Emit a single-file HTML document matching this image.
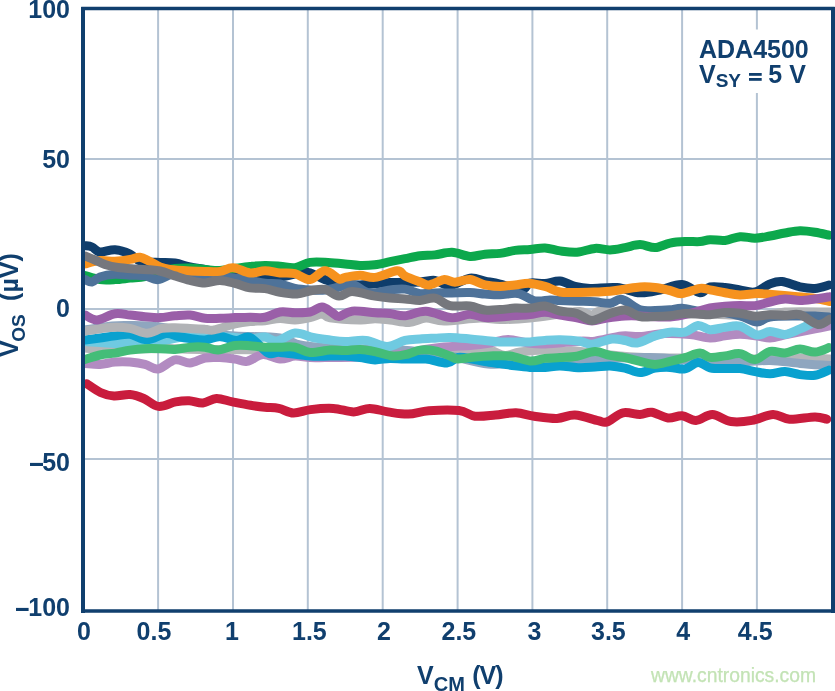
<!DOCTYPE html>
<html><head><meta charset="utf-8"><style>
html,body{margin:0;padding:0;background:#fff;overflow:hidden}
svg{display:block;will-change:transform}
</style></head><body>
<svg width="835" height="691" viewBox="0 0 835 691">
<defs><clipPath id="pc"><rect x="83" y="8" width="750" height="603"/></clipPath></defs>
<rect width="835" height="691" fill="#fff"/>
<line x1="158.1" y1="9" x2="158.1" y2="610" stroke="#b4c3d3" stroke-width="2"/>
<line x1="233.0" y1="9" x2="233.0" y2="610" stroke="#b4c3d3" stroke-width="2"/>
<line x1="307.8" y1="9" x2="307.8" y2="610" stroke="#b4c3d3" stroke-width="2"/>
<line x1="382.7" y1="9" x2="382.7" y2="610" stroke="#b4c3d3" stroke-width="2"/>
<line x1="457.6" y1="9" x2="457.6" y2="610" stroke="#b4c3d3" stroke-width="2"/>
<line x1="532.4" y1="9" x2="532.4" y2="610" stroke="#b4c3d3" stroke-width="2"/>
<line x1="607.2" y1="9" x2="607.2" y2="610" stroke="#b4c3d3" stroke-width="2"/>
<line x1="682.1" y1="9" x2="682.1" y2="610" stroke="#b4c3d3" stroke-width="2"/>
<line x1="756.9" y1="9" x2="756.9" y2="610" stroke="#b4c3d3" stroke-width="2"/>
<line x1="83" y1="159.0" x2="833" y2="159.0" stroke="#b4c3d3" stroke-width="2"/>
<line x1="83" y1="309.0" x2="833" y2="309.0" stroke="#b4c3d3" stroke-width="2"/>
<line x1="83" y1="459.0" x2="833" y2="459.0" stroke="#b4c3d3" stroke-width="2"/>
<rect x="692" y="29.5" width="125" height="63.5" fill="#fff"/>
<g clip-path="url(#pc)">
<path d="M85.0,348.0 C88.3,348.2 97.5,349.3 105.0,349.5 C112.5,349.7 120.0,349.2 130.0,349.0 C140.0,348.8 153.3,348.4 165.0,348.5 C176.7,348.6 177.5,349.2 200.0,349.5 C222.5,349.8 266.7,349.6 300.0,350.0 C333.3,350.4 370.0,351.9 400.0,352.0 C430.0,352.1 464.7,350.7 480.0,350.5 C495.3,350.3 487.8,350.2 492.0,351.0 C496.2,351.8 500.3,355.3 505.0,355.5 C509.7,355.7 513.3,352.9 520.0,352.0 C526.7,351.1 538.3,350.1 545.0,350.0 C551.7,349.9 555.0,351.5 560.0,351.6 C565.0,351.8 565.0,350.2 575.0,350.9 C585.0,351.6 605.8,354.8 620.0,356.0 C634.2,357.2 646.7,357.7 660.0,358.0 C673.3,358.3 685.0,357.8 700.0,358.0 C715.0,358.2 735.0,359.0 750.0,359.0 C765.0,359.0 776.7,358.0 790.0,358.0 C803.3,358.0 823.3,358.8 830.0,359.0" fill="none" stroke="#b4b6b9" stroke-width="9" stroke-linejoin="round" stroke-linecap="round"/>
<path d="M85.0,330.0 C89.5,329.3 104.5,326.8 112.0,326.0 C119.5,325.2 122.0,325.3 130.0,325.5 C138.0,325.7 150.0,325.8 160.0,327.0 C170.0,328.2 177.5,331.5 190.0,333.0 C202.5,334.5 220.0,335.2 235.0,336.0 C250.0,336.8 269.2,336.5 280.0,338.0 C290.8,339.5 291.7,343.3 300.0,345.0 C308.3,346.7 313.3,347.2 330.0,348.0 C346.7,348.8 380.0,348.7 400.0,350.0 C420.0,351.3 435.3,353.7 450.0,356.0 C464.7,358.3 474.7,363.0 488.0,364.0 C501.3,365.0 513.0,362.8 530.0,362.0 C547.0,361.2 570.0,359.8 590.0,359.0 C610.0,358.2 631.7,357.2 650.0,357.5 C668.3,357.8 685.0,360.2 700.0,361.0 C715.0,361.8 728.3,362.1 740.0,362.0 C751.7,361.9 760.0,360.2 770.0,360.4 C780.0,360.6 790.0,362.5 800.0,363.4 C810.0,364.3 825.0,365.2 830.0,365.6" fill="none" stroke="#8fa6bf" stroke-width="9" stroke-linejoin="round" stroke-linecap="round"/>
<path d="M85.0,363.6 C87.5,363.7 95.0,364.6 100.0,364.4 C105.0,364.1 110.0,362.5 115.0,362.1 C120.0,361.7 125.0,361.7 130.0,362.1 C135.0,362.5 140.3,363.2 145.0,364.4 C149.7,365.5 153.0,369.8 158.0,369.0 C163.0,368.2 169.7,360.9 175.0,359.9 C180.3,358.9 185.0,363.2 190.0,362.9 C195.0,362.6 200.0,358.9 205.0,358.0 C210.0,357.1 215.0,357.4 220.0,357.6 C225.0,357.8 230.5,358.5 235.0,359.1 C239.5,359.7 242.3,362.2 247.0,361.4 C251.7,360.6 257.5,354.9 263.0,354.5 C268.5,354.1 274.7,358.8 280.0,359.1 C285.3,359.4 290.0,356.4 295.0,356.1 C300.0,355.9 305.0,357.4 310.0,357.6 C315.0,357.9 316.7,357.7 325.0,357.6 C333.3,357.5 347.5,357.5 360.0,357.0 C372.5,356.5 389.2,355.8 400.0,354.5 C410.8,353.2 417.7,350.8 425.0,349.5 C432.3,348.2 436.5,347.7 444.0,347.0 C451.5,346.3 462.3,346.2 470.0,345.5 C477.7,344.8 483.7,344.0 490.0,343.0 C496.3,342.0 501.7,339.5 508.0,339.5 C514.3,339.5 521.8,342.2 528.0,343.0 C534.2,343.8 536.3,344.3 545.0,344.0 C553.7,343.7 571.7,341.7 580.0,341.2 C588.3,340.7 588.0,342.1 595.0,341.2 C602.0,340.3 614.5,336.7 622.0,335.9 C629.5,335.1 632.8,336.9 640.0,336.5 C647.2,336.1 656.7,333.8 665.0,333.5 C673.3,333.2 682.5,333.8 690.0,334.5 C697.5,335.2 704.2,337.8 710.0,338.0 C715.8,338.2 720.0,336.3 725.0,335.7 C730.0,335.1 735.0,334.2 740.0,334.2 C745.0,334.2 750.0,335.1 755.0,335.7 C760.0,336.3 765.0,338.0 770.0,337.9 C775.0,337.8 780.0,335.9 785.0,334.9 C790.0,333.9 795.0,332.9 800.0,331.9 C805.0,330.9 810.0,329.9 815.0,328.9 C820.0,327.9 827.5,326.4 830.0,325.9" fill="none" stroke="#b28bc1" stroke-width="9" stroke-linejoin="round" stroke-linecap="round"/>
<path d="M85.0,341.5 C90.0,341.8 107.5,343.3 115.0,343.4 C122.5,343.5 125.0,341.9 130.0,341.9 C135.0,341.9 140.0,343.5 145.0,343.4 C150.0,343.3 152.5,342.4 160.0,341.2 C167.5,339.9 182.5,336.7 190.0,335.9 C197.5,335.1 200.0,336.2 205.0,336.3 C210.0,336.4 215.0,336.5 220.0,336.7 C225.0,336.9 230.0,337.0 235.0,337.4 C240.0,337.8 245.0,339.0 250.0,338.9 C255.0,338.8 260.5,336.6 265.0,337.0 C269.5,337.4 272.0,341.7 277.0,341.0 C282.0,340.3 289.0,333.6 295.0,333.0 C301.0,332.4 307.2,336.3 313.0,337.5 C318.8,338.7 324.7,339.3 330.0,340.0 C335.3,340.7 339.0,341.4 345.0,341.5 C351.0,341.6 359.0,339.7 366.0,340.5 C373.0,341.3 380.5,346.5 387.0,346.5 C393.5,346.5 399.5,341.7 405.0,340.4 C410.5,339.1 415.0,339.3 420.0,338.9 C425.0,338.5 430.0,338.4 435.0,338.2 C440.0,337.9 444.2,337.3 450.0,337.4 C455.8,337.5 464.2,338.4 470.0,338.9 C475.8,339.4 480.0,339.9 485.0,340.4 C490.0,340.9 495.0,341.6 500.0,341.9 C505.0,342.1 510.0,341.9 515.0,341.9 C520.0,341.9 525.0,342.1 530.0,341.9 C535.0,341.6 540.0,340.8 545.0,340.4 C550.0,340.0 554.2,339.6 560.0,339.7 C565.8,339.8 574.7,340.4 580.0,341.2 C585.3,341.9 586.7,344.6 592.0,344.2 C597.3,343.8 606.5,339.6 612.0,339.0 C617.5,338.4 620.8,339.8 625.0,340.5 C629.2,341.2 632.0,343.8 637.0,343.0 C642.0,342.2 649.5,337.7 655.0,335.9 C660.5,334.1 665.0,332.8 670.0,332.2 C675.0,331.6 680.3,333.3 685.0,332.2 C689.7,331.1 693.8,325.8 698.0,325.4 C702.2,325.0 705.5,329.4 710.0,329.7 C714.5,330.0 720.0,328.0 725.0,327.4 C730.0,326.8 734.7,324.9 740.0,326.2 C745.3,327.5 752.0,334.1 757.0,335.0 C762.0,335.9 765.3,331.5 770.0,331.4 C774.7,331.3 780.0,334.8 785.0,334.4 C790.0,334.0 795.0,330.9 800.0,328.9 C805.0,326.9 810.0,324.0 815.0,322.2 C820.0,320.4 827.5,318.7 830.0,318.0" fill="none" stroke="#6fcae1" stroke-width="9" stroke-linejoin="round" stroke-linecap="round"/>
<path d="M85.0,340.0 C87.5,339.7 95.0,338.7 100.0,338.0 C105.0,337.3 110.0,336.5 115.0,335.9 C120.0,335.3 124.7,333.8 130.0,334.4 C135.3,335.0 141.0,339.9 147.0,339.8 C153.0,339.7 160.8,334.1 166.0,333.5 C171.2,332.9 174.0,335.7 178.0,336.5 C182.0,337.3 185.5,337.9 190.0,338.5 C194.5,339.1 200.0,340.3 205.0,340.0 C210.0,339.7 214.8,336.4 220.0,336.5 C225.2,336.6 231.0,340.3 236.0,340.5 C241.0,340.7 244.7,335.4 250.0,337.5 C255.3,339.6 263.0,350.6 268.0,353.1 C273.0,355.6 273.0,351.9 280.0,352.4 C287.0,352.9 301.7,355.5 310.0,356.1 C318.3,356.7 324.2,356.1 330.0,356.1 C335.8,356.1 340.0,355.9 345.0,356.1 C350.0,356.4 355.0,357.0 360.0,357.6 C365.0,358.2 370.0,359.8 375.0,359.9 C380.0,360.0 385.0,358.5 390.0,358.4 C395.0,358.3 399.0,359.0 405.0,359.1 C411.0,359.2 419.0,358.5 426.0,359.1 C433.0,359.8 441.7,363.3 447.0,363.0 C452.3,362.7 453.8,358.2 458.0,357.5 C462.2,356.8 467.5,358.3 472.0,359.0 C476.5,359.7 480.3,360.7 485.0,361.5 C489.7,362.3 495.0,362.9 500.0,363.6 C505.0,364.3 510.0,365.3 515.0,365.9 C520.0,366.5 525.0,367.1 530.0,367.4 C535.0,367.6 540.0,367.6 545.0,367.4 C550.0,367.1 554.5,365.8 560.0,365.9 C565.5,365.9 572.2,367.5 578.0,367.7 C583.8,367.9 589.7,367.3 595.0,367.0 C600.3,366.7 605.0,365.7 610.0,365.9 C615.0,366.1 620.0,367.0 625.0,368.1 C630.0,369.2 635.0,372.6 640.0,372.6 C645.0,372.6 650.0,369.0 655.0,368.1 C660.0,367.2 665.0,367.3 670.0,367.4 C675.0,367.5 680.3,369.7 685.0,368.9 C689.7,368.1 693.8,362.7 698.0,362.5 C702.2,362.3 705.5,366.8 710.0,367.8 C714.5,368.8 720.0,368.5 725.0,368.6 C730.0,368.7 735.0,368.1 740.0,368.6 C745.0,369.1 750.0,370.7 755.0,371.6 C760.0,372.5 765.0,373.8 770.0,373.8 C775.0,373.8 780.0,371.5 785.0,371.6 C790.0,371.7 795.0,374.0 800.0,374.6 C805.0,375.2 810.2,376.1 815.0,375.3 C819.8,374.6 826.7,371.0 829.0,370.1" fill="none" stroke="#09a1cf" stroke-width="9" stroke-linejoin="round" stroke-linecap="round"/>
<path d="M85.0,331.0 C89.3,330.4 103.5,327.9 111.0,327.5 C118.5,327.1 124.0,327.4 130.0,328.4 C136.0,329.3 141.7,333.2 147.0,333.2 C152.3,333.2 157.3,329.3 162.0,328.4 C166.7,327.5 170.3,327.7 175.0,327.7 C179.7,327.7 185.0,328.1 190.0,328.4 C195.0,328.6 201.0,328.9 205.0,329.2 C209.0,329.4 209.0,330.8 214.0,329.9 C219.0,329.0 229.0,325.3 235.0,323.9 C241.0,322.5 245.0,322.0 250.0,321.5 C255.0,321.0 260.0,321.2 265.0,320.7 C270.0,320.2 275.0,318.6 280.0,318.5 C285.0,318.4 290.0,320.1 295.0,320.0 C300.0,319.9 305.5,318.7 310.0,317.7 C314.5,316.7 318.7,314.0 322.0,314.0 C325.3,314.0 323.7,316.7 330.0,317.7 C336.3,318.7 352.5,319.8 360.0,320.0 C367.5,320.2 370.0,318.7 375.0,318.7 C380.0,318.7 384.3,319.4 390.0,320.0 C395.7,320.6 403.0,322.8 409.0,322.5 C415.0,322.2 420.2,318.2 426.0,318.0 C431.8,317.8 435.0,321.0 444.0,321.0 C453.0,321.0 470.7,318.2 480.0,318.0 C489.3,317.8 491.7,319.5 500.0,319.5 C508.3,319.5 520.0,318.9 530.0,318.0 C540.0,317.1 551.7,315.1 560.0,314.0 C568.3,312.9 574.7,311.3 580.0,311.5 C585.3,311.7 588.3,315.1 592.0,315.0 C595.7,314.9 594.0,311.2 602.0,311.0 C610.0,310.8 623.7,313.5 640.0,314.0 C656.3,314.5 684.7,313.8 700.0,314.0 C715.3,314.2 722.0,314.6 732.0,315.0 C742.0,315.4 751.2,317.0 760.0,316.5 C768.8,316.0 773.3,312.8 785.0,312.0 C796.7,311.2 822.5,312.0 830.0,312.0" fill="none" stroke="#b1b3b6" stroke-width="9" stroke-linejoin="round" stroke-linecap="round"/>
<path d="M85.0,359.5 C87.5,358.8 95.0,356.1 100.0,355.0 C105.0,353.9 110.0,353.9 115.0,353.1 C120.0,352.3 125.0,350.8 130.0,350.1 C135.0,349.4 140.0,348.9 145.0,348.7 C150.0,348.5 155.0,348.6 160.0,348.7 C165.0,348.8 170.0,349.6 175.0,349.4 C180.0,349.1 185.0,347.6 190.0,347.2 C195.0,346.8 200.3,346.7 205.0,347.2 C209.7,347.7 213.0,350.3 218.0,350.0 C223.0,349.7 229.7,346.2 235.0,345.5 C240.3,344.8 245.0,345.4 250.0,345.7 C255.0,346.0 260.0,346.9 265.0,347.2 C270.0,347.4 275.0,347.2 280.0,347.2 C285.0,347.2 290.0,346.3 295.0,347.2 C300.0,348.1 304.2,352.0 310.0,352.5 C315.8,353.0 324.2,350.3 330.0,350.0 C335.8,349.7 340.0,350.6 345.0,350.5 C350.0,350.4 355.0,349.2 360.0,349.4 C365.0,349.6 369.5,350.5 375.0,351.6 C380.5,352.7 387.5,355.6 393.0,356.0 C398.5,356.4 403.5,355.0 408.0,354.0 C412.5,353.0 415.5,350.6 420.0,350.1 C424.5,349.6 430.0,349.9 435.0,350.9 C440.0,351.9 446.2,354.6 450.0,356.0 C453.8,357.4 453.8,358.8 458.0,359.0 C462.2,359.2 469.7,357.5 475.0,357.0 C480.3,356.5 484.2,356.2 490.0,356.0 C495.8,355.8 503.3,355.2 510.0,356.0 C516.7,356.8 524.2,360.6 530.0,361.0 C535.8,361.4 540.0,359.0 545.0,358.4 C550.0,357.8 554.7,358.0 560.0,357.6 C565.3,357.2 571.2,357.2 577.0,356.2 C582.8,355.2 589.5,351.7 595.0,351.6 C600.5,351.5 605.0,354.4 610.0,355.4 C615.0,356.4 620.0,356.6 625.0,357.6 C630.0,358.6 635.0,360.3 640.0,361.4 C645.0,362.5 650.0,364.4 655.0,364.4 C660.0,364.4 665.0,362.5 670.0,361.4 C675.0,360.3 680.0,359.0 685.0,357.6 C690.0,356.2 695.8,353.1 700.0,353.1 C704.2,353.1 705.8,356.9 710.0,357.4 C714.2,357.9 720.0,356.5 725.0,355.9 C730.0,355.3 735.0,353.0 740.0,353.6 C745.0,354.2 750.0,359.9 755.0,359.5 C760.0,359.1 765.0,352.5 770.0,351.4 C775.0,350.3 780.0,353.3 785.0,352.9 C790.0,352.5 795.0,349.2 800.0,349.1 C805.0,349.0 810.2,352.4 815.0,352.1 C819.8,351.9 826.7,348.4 829.0,347.6" fill="none" stroke="#44bd78" stroke-width="9" stroke-linejoin="round" stroke-linecap="round"/>
<path d="M86.8,383.7 C89.1,385.2 96.0,390.4 100.5,392.5 C105.0,394.6 109.1,395.7 114.0,396.0 C118.9,396.3 125.0,394.1 130.0,394.5 C134.9,394.9 138.9,396.5 143.7,398.5 C148.4,400.5 153.2,405.8 158.5,406.4 C163.8,407.0 170.5,402.8 175.6,401.9 C180.7,400.9 184.6,400.5 189.2,400.7 C193.8,400.9 198.3,403.4 202.9,403.0 C207.5,402.6 211.6,398.6 216.5,398.4 C221.4,398.2 226.7,400.8 232.4,401.9 C238.1,403.0 245.2,404.4 250.6,405.3 C256.0,406.2 260.3,406.8 265.0,407.3 C269.7,407.8 274.0,407.4 278.7,408.4 C283.4,409.3 288.1,412.8 293.4,413.0 C298.7,413.2 303.9,410.4 310.5,409.6 C317.1,408.8 326.1,408.0 333.3,408.4 C340.5,408.8 347.6,411.9 353.7,411.9 C359.8,411.9 364.0,408.4 369.7,408.4 C375.4,408.4 381.5,410.9 387.9,411.9 C394.3,412.8 401.5,414.3 408.3,414.1 C415.1,413.9 420.4,411.3 428.8,410.7 C437.2,410.1 451.3,409.6 459.0,410.5 C466.7,411.4 468.9,415.4 475.0,416.2 C481.1,416.9 488.7,415.6 495.5,415.0 C502.3,414.4 509.6,412.6 516.0,412.8 C522.5,413.0 527.4,415.3 534.2,416.2 C541.0,417.1 550.2,418.6 557.0,418.4 C563.8,418.2 568.2,414.6 575.0,415.0 C581.8,415.4 592.7,419.6 598.0,420.7 C603.3,421.8 602.9,423.2 607.0,421.9 C611.1,420.6 617.4,414.0 622.9,412.8 C628.4,411.6 635.2,414.6 640.0,414.5 C644.8,414.4 647.0,411.6 651.7,412.2 C656.4,412.8 663.0,417.4 668.0,418.0 C673.0,418.6 677.3,415.3 682.0,415.7 C686.7,416.1 690.9,420.6 696.0,420.4 C701.1,420.2 706.6,414.3 712.4,414.5 C718.2,414.7 724.4,420.5 731.0,421.5 C737.6,422.5 745.0,421.6 752.0,420.4 C759.0,419.2 766.8,414.7 773.0,414.5 C779.2,414.3 782.5,418.8 789.5,419.2 C796.5,419.6 808.8,416.9 815.0,416.9 C821.2,416.9 824.8,418.8 826.8,419.2" fill="none" stroke="#c91c3d" stroke-width="9" stroke-linejoin="round" stroke-linecap="round"/>
<path d="M85.0,245.7 C86.2,245.9 89.5,245.9 92.0,247.0 C94.5,248.1 96.2,251.6 100.0,252.0 C103.8,252.4 110.0,249.4 115.0,249.7 C120.0,250.0 125.7,252.0 130.0,254.0 C134.3,256.0 136.0,260.1 141.0,261.5 C146.0,262.9 154.3,262.1 160.0,262.4 C165.7,262.6 170.0,262.2 175.0,263.0 C180.0,263.8 185.0,265.9 190.0,267.0 C195.0,268.1 200.0,268.6 205.0,269.5 C210.0,270.4 212.5,271.3 220.0,272.5 C227.5,273.7 240.0,276.0 250.0,276.7 C260.0,277.4 271.7,277.3 280.0,276.7 C288.3,276.1 295.0,273.5 300.0,272.9 C305.0,272.3 305.8,271.8 310.0,272.9 C314.2,274.0 319.2,277.8 325.0,279.6 C330.8,281.4 339.2,282.6 345.0,283.5 C350.8,284.4 352.5,285.0 360.0,284.9 C367.5,284.8 380.0,283.1 390.0,282.6 C400.0,282.1 412.5,282.3 420.0,281.9 C427.5,281.5 430.0,279.8 435.0,280.4 C440.0,281.0 444.2,286.0 450.0,285.6 C455.8,285.2 464.2,278.9 470.0,278.1 C475.8,277.4 480.0,280.1 485.0,281.1 C490.0,282.1 493.8,282.7 500.0,284.1 C506.2,285.5 517.0,289.6 522.0,289.4 C527.0,289.2 526.2,284.0 530.0,283.0 C533.8,282.0 540.0,283.8 545.0,283.5 C550.0,283.2 555.0,280.6 560.0,281.1 C565.0,281.6 570.0,285.2 575.0,286.4 C580.0,287.6 583.0,288.2 590.0,288.4 C597.0,288.6 608.7,286.9 617.0,287.6 C625.3,288.3 632.8,292.4 640.0,292.8 C647.2,293.2 653.0,291.4 660.0,290.0 C667.0,288.6 675.3,284.1 682.0,284.6 C688.7,285.1 695.3,292.4 700.0,292.8 C704.7,293.2 705.8,287.9 710.0,287.0 C714.2,286.1 720.0,287.0 725.0,287.5 C730.0,288.0 735.0,289.2 740.0,290.0 C745.0,290.8 750.0,293.0 755.0,292.0 C760.0,291.0 765.5,285.6 770.0,283.9 C774.5,282.2 777.0,281.1 782.0,281.6 C787.0,282.1 794.5,285.8 800.0,286.9 C805.5,288.0 810.2,288.7 815.0,288.4 C819.8,288.1 826.7,285.6 829.0,285.0" fill="none" stroke="#0f3d6b" stroke-width="9" stroke-linejoin="round" stroke-linecap="round"/>
<path d="M85.0,275.5 C87.5,276.2 95.0,278.9 100.0,279.6 C105.0,280.3 110.0,279.9 115.0,279.6 C120.0,279.4 125.0,278.6 130.0,278.1 C135.0,277.6 140.0,277.8 145.0,276.7 C150.0,275.6 155.0,272.9 160.0,271.5 C165.0,270.1 170.0,269.1 175.0,268.5 C180.0,267.9 185.0,267.8 190.0,268.0 C195.0,268.2 200.0,269.1 205.0,269.5 C210.0,269.9 215.0,270.7 220.0,270.5 C225.0,270.3 230.0,269.2 235.0,268.5 C240.0,267.8 245.0,267.0 250.0,266.5 C255.0,266.0 260.0,265.4 265.0,265.4 C270.0,265.3 275.0,265.8 280.0,266.2 C285.0,266.6 290.0,268.3 295.0,267.7 C300.0,267.1 304.5,263.3 310.0,262.4 C315.5,261.5 322.2,262.2 328.0,262.5 C333.8,262.8 339.7,263.4 345.0,263.9 C350.3,264.4 355.0,265.3 360.0,265.4 C365.0,265.5 370.0,265.3 375.0,264.7 C380.0,264.1 385.0,262.7 390.0,261.7 C395.0,260.7 400.0,259.7 405.0,258.7 C410.0,257.7 415.0,256.3 420.0,255.7 C425.0,255.1 429.7,255.5 435.0,254.9 C440.3,254.3 446.2,252.1 452.0,252.3 C457.8,252.6 464.5,256.1 470.0,256.4 C475.5,256.7 480.0,254.7 485.0,254.2 C490.0,253.7 495.0,254.0 500.0,253.4 C505.0,252.8 510.0,251.1 515.0,250.4 C520.0,249.7 525.0,249.8 530.0,249.4 C535.0,249.0 540.0,247.7 545.0,247.9 C550.0,248.2 554.7,250.2 560.0,250.9 C565.3,251.6 571.2,252.6 577.0,252.2 C582.8,251.8 589.5,248.8 595.0,248.4 C600.5,248.0 605.0,250.0 610.0,249.9 C615.0,249.8 620.0,248.5 625.0,247.6 C630.0,246.7 635.0,244.6 640.0,244.6 C645.0,244.6 650.0,247.8 655.0,247.6 C660.0,247.3 665.0,244.1 670.0,243.1 C675.0,242.1 680.0,241.8 685.0,241.6 C690.0,241.3 695.8,241.9 700.0,241.6 C704.2,241.3 705.8,239.9 710.0,239.7 C714.2,239.5 720.0,240.9 725.0,240.4 C730.0,239.9 735.0,237.1 740.0,236.7 C745.0,236.3 750.0,238.3 755.0,238.2 C760.0,238.1 765.0,236.9 770.0,236.0 C775.0,235.1 780.0,233.9 785.0,233.0 C790.0,232.1 795.0,230.8 800.0,230.7 C805.0,230.6 810.2,231.4 815.0,232.2 C819.8,232.9 826.7,234.7 829.0,235.2" fill="none" stroke="#0ca84c" stroke-width="9" stroke-linejoin="round" stroke-linecap="round"/>
<path d="M85.0,279.6 C86.2,280.0 89.5,282.4 92.0,282.0 C94.5,281.6 96.2,278.3 100.0,277.0 C103.8,275.7 110.0,274.6 115.0,274.3 C120.0,274.0 125.0,274.9 130.0,275.2 C135.0,275.5 140.3,275.2 145.0,275.9 C149.7,276.6 153.0,280.1 158.0,279.6 C163.0,279.1 169.7,273.8 175.0,272.9 C180.3,272.0 185.0,273.8 190.0,274.4 C195.0,275.0 197.5,275.7 205.0,276.3 C212.5,276.9 227.5,277.4 235.0,278.1 C242.5,278.8 245.0,279.6 250.0,280.4 C255.0,281.2 260.0,282.5 265.0,283.1 C270.0,283.7 275.0,283.0 280.0,283.9 C285.0,284.8 290.0,287.4 295.0,288.4 C300.0,289.4 305.0,289.7 310.0,290.0 C315.0,290.3 320.2,290.6 325.0,290.1 C329.8,289.6 334.5,288.0 339.0,287.0 C343.5,286.0 347.0,283.1 352.0,284.1 C357.0,285.1 362.7,291.9 369.0,292.9 C375.3,293.9 384.0,290.5 390.0,289.9 C396.0,289.3 400.0,288.5 405.0,289.1 C410.0,289.7 415.0,293.0 420.0,293.6 C425.0,294.2 429.7,293.0 435.0,292.9 C440.3,292.8 446.2,292.9 452.0,292.9 C457.8,292.8 464.5,292.4 470.0,292.6 C475.5,292.8 480.0,293.6 485.0,294.0 C490.0,294.4 494.5,294.9 500.0,294.8 C505.5,294.7 512.2,292.5 518.0,293.5 C523.8,294.5 529.7,299.7 535.0,300.8 C540.3,301.9 545.8,300.1 550.0,300.0 C554.2,299.9 555.5,300.3 560.0,300.5 C564.5,300.7 571.2,301.0 577.0,301.2 C582.8,301.4 589.5,301.4 595.0,301.8 C600.5,302.2 605.5,303.7 610.0,303.3 C614.5,302.9 617.0,298.4 622.0,299.5 C627.0,300.6 634.5,307.9 640.0,309.8 C645.5,311.7 650.0,310.6 655.0,310.6 C660.0,310.6 665.5,310.2 670.0,309.8 C674.5,309.4 677.0,308.1 682.0,308.3 C687.0,308.6 695.3,311.0 700.0,311.3 C704.7,311.6 703.3,309.2 710.0,310.0 C716.7,310.8 732.2,314.0 740.0,316.0 C747.8,318.0 752.0,321.8 757.0,322.0 C762.0,322.2 762.8,318.0 770.0,317.0 C777.2,316.0 792.5,316.2 800.0,316.0 C807.5,315.8 810.2,315.8 815.0,316.0 C819.8,316.2 826.7,316.8 829.0,317.0" fill="none" stroke="#4e7299" stroke-width="9" stroke-linejoin="round" stroke-linecap="round"/>
<path d="M85.0,263.9 C87.5,263.3 95.0,261.1 100.0,260.6 C105.0,260.2 110.0,261.4 115.0,261.2 C120.0,261.0 125.8,260.1 130.0,259.4 C134.2,258.7 136.7,256.8 140.0,257.2 C143.3,257.6 146.7,259.9 150.0,261.5 C153.3,263.1 156.7,265.7 160.0,267.0 C163.3,268.3 165.0,268.8 170.0,269.5 C175.0,270.2 184.2,270.7 190.0,271.0 C195.8,271.3 200.0,271.4 205.0,271.5 C210.0,271.6 215.3,272.0 220.0,271.4 C224.7,270.8 228.0,267.4 233.0,267.7 C238.0,267.9 244.7,272.4 250.0,272.9 C255.3,273.4 260.0,270.7 265.0,270.7 C270.0,270.7 275.0,272.4 280.0,272.9 C285.0,273.4 290.0,272.6 295.0,273.7 C300.0,274.8 305.0,280.1 310.0,279.6 C315.0,279.1 320.2,270.8 325.0,270.7 C329.8,270.6 335.7,277.8 339.0,278.9 C342.3,280.0 341.5,278.0 345.0,277.4 C348.5,276.8 355.0,275.2 360.0,275.2 C365.0,275.2 368.8,278.1 375.0,277.4 C381.2,276.7 392.0,271.1 397.0,270.8 C402.0,270.6 401.2,274.0 405.0,275.9 C408.8,277.8 416.0,280.4 420.0,281.9 C424.0,283.4 425.0,285.3 429.0,284.9 C433.0,284.5 439.7,280.1 444.0,279.6 C448.3,279.2 450.7,282.2 455.0,282.2 C459.3,282.2 465.0,279.2 470.0,279.6 C475.0,280.1 480.0,283.8 485.0,284.9 C490.0,286.0 495.0,286.4 500.0,286.4 C505.0,286.4 510.0,285.4 515.0,284.9 C520.0,284.4 525.0,283.1 530.0,283.4 C535.0,283.6 540.0,285.0 545.0,286.4 C550.0,287.8 555.0,291.0 560.0,292.0 C565.0,293.0 569.2,292.5 575.0,292.5 C580.8,292.5 589.2,292.2 595.0,292.0 C600.8,291.8 605.0,291.8 610.0,291.3 C615.0,290.8 620.0,289.8 625.0,289.1 C630.0,288.4 635.0,287.3 640.0,287.0 C645.0,286.7 650.0,286.9 655.0,287.5 C660.0,288.1 665.5,289.5 670.0,290.5 C674.5,291.5 677.0,294.0 682.0,293.6 C687.0,293.2 695.3,289.0 700.0,288.4 C704.7,287.8 705.8,289.2 710.0,289.9 C714.2,290.6 720.0,291.9 725.0,292.8 C730.0,293.7 734.7,294.9 740.0,295.0 C745.3,295.1 751.7,293.6 757.0,293.5 C762.3,293.4 765.7,294.0 772.0,294.5 C778.3,295.0 787.8,295.8 795.0,296.5 C802.2,297.2 809.2,297.7 815.0,298.5 C820.8,299.3 827.5,301.0 830.0,301.5" fill="none" stroke="#f6921e" stroke-width="9" stroke-linejoin="round" stroke-linecap="round"/>
<path d="M85.0,315.0 C87.0,315.8 92.0,320.2 97.0,320.0 C102.0,319.8 109.5,314.6 115.0,313.8 C120.5,313.0 125.0,314.5 130.0,315.0 C135.0,315.5 140.0,316.4 145.0,316.8 C150.0,317.2 155.0,317.8 160.0,317.6 C165.0,317.4 170.0,316.2 175.0,315.8 C180.0,315.4 185.0,314.6 190.0,315.0 C195.0,315.4 200.0,317.8 205.0,318.3 C210.0,318.9 215.0,318.4 220.0,318.3 C225.0,318.2 230.0,317.8 235.0,317.6 C240.0,317.4 245.0,317.4 250.0,317.3 C255.0,317.2 260.0,318.2 265.0,317.3 C270.0,316.4 275.0,312.8 280.0,312.0 C285.0,311.2 290.0,312.7 295.0,312.7 C300.0,312.7 305.5,312.9 310.0,312.0 C314.5,311.1 318.3,306.9 322.0,307.0 C325.7,307.1 329.2,310.9 332.0,312.5 C334.8,314.1 335.7,316.7 339.0,316.5 C342.3,316.3 346.0,311.8 352.0,311.2 C358.0,310.6 368.7,312.3 375.0,312.7 C381.3,313.1 385.0,313.0 390.0,313.5 C395.0,314.0 399.0,316.1 405.0,315.7 C411.0,315.3 418.2,310.8 426.0,311.2 C433.8,311.6 444.7,317.3 452.0,317.8 C459.3,318.3 464.5,314.2 470.0,314.2 C475.5,314.1 480.0,317.0 485.0,317.5 C490.0,318.0 495.0,317.3 500.0,317.0 C505.0,316.7 510.0,316.0 515.0,315.6 C520.0,315.2 525.0,315.1 530.0,314.5 C535.0,313.9 540.0,312.2 545.0,312.3 C550.0,312.4 554.5,314.1 560.0,315.0 C565.5,315.9 572.7,317.0 578.0,318.0 C583.3,319.0 587.2,321.0 592.0,321.0 C596.8,321.0 601.5,318.8 607.0,318.0 C612.5,317.2 619.5,316.3 625.0,316.0 C630.5,315.7 632.5,315.8 640.0,316.0 C647.5,316.2 661.3,317.5 670.0,317.0 C678.7,316.5 685.3,314.5 692.0,313.0 C698.7,311.5 704.5,309.1 710.0,308.0 C715.5,306.9 720.0,306.7 725.0,306.3 C730.0,305.9 735.0,305.6 740.0,305.5 C745.0,305.4 750.0,306.2 755.0,305.6 C760.0,305.0 765.0,303.1 770.0,302.0 C775.0,300.9 780.0,299.2 785.0,299.0 C790.0,298.8 795.0,300.5 800.0,300.5 C805.0,300.5 810.0,299.6 815.0,299.0 C820.0,298.4 827.5,297.1 830.0,296.7" fill="none" stroke="#9a5fa8" stroke-width="9" stroke-linejoin="round" stroke-linecap="round"/>
<path d="M85.0,256.0 C86.7,256.7 91.7,258.6 95.0,260.0 C98.3,261.4 101.2,263.2 105.0,264.5 C108.8,265.8 113.0,266.8 118.0,267.5 C123.0,268.2 129.7,268.6 135.0,269.0 C140.3,269.4 145.8,269.5 150.0,269.8 C154.2,270.1 155.8,270.0 160.0,271.0 C164.2,272.0 170.0,274.3 175.0,275.9 C180.0,277.5 185.0,279.2 190.0,280.4 C195.0,281.6 200.0,283.0 205.0,283.0 C210.0,283.0 215.0,280.3 220.0,280.4 C225.0,280.5 230.0,282.1 235.0,283.4 C240.0,284.6 245.0,287.0 250.0,287.9 C255.0,288.8 260.0,287.9 265.0,288.6 C270.0,289.3 274.7,291.4 280.0,292.3 C285.3,293.2 291.7,294.3 297.0,294.0 C302.3,293.7 307.3,291.3 312.0,290.5 C316.7,289.7 320.5,288.5 325.0,289.4 C329.5,290.3 334.5,295.7 339.0,296.1 C343.5,296.5 346.0,291.6 352.0,291.6 C358.0,291.6 368.7,295.0 375.0,296.1 C381.3,297.2 385.0,297.6 390.0,298.1 C395.0,298.6 400.0,298.5 405.0,298.9 C410.0,299.3 415.0,300.5 420.0,300.4 C425.0,300.3 430.0,297.2 435.0,298.1 C440.0,299.0 444.2,304.3 450.0,305.6 C455.8,306.9 464.2,305.3 470.0,306.0 C475.8,306.7 480.0,309.4 485.0,310.0 C490.0,310.6 495.0,309.9 500.0,309.6 C505.0,309.3 510.0,308.4 515.0,308.1 C520.0,307.9 525.0,308.5 530.0,308.1 C535.0,307.8 540.0,305.5 545.0,306.0 C550.0,306.5 554.7,309.8 560.0,311.0 C565.3,312.2 571.7,311.9 577.0,313.5 C582.3,315.1 586.5,320.5 592.0,320.5 C597.5,320.5 604.5,315.2 610.0,313.5 C615.5,311.8 620.0,309.5 625.0,310.0 C630.0,310.5 635.0,315.4 640.0,316.5 C645.0,317.6 650.0,316.6 655.0,316.5 C660.0,316.4 665.0,316.2 670.0,315.7 C675.0,315.2 680.0,313.8 685.0,313.5 C690.0,313.2 695.8,314.0 700.0,314.2 C704.2,314.4 705.8,315.0 710.0,314.7 C714.2,314.4 720.0,312.8 725.0,312.5 C730.0,312.2 735.0,312.6 740.0,313.2 C745.0,313.8 750.0,315.9 755.0,316.2 C760.0,316.4 765.0,314.8 770.0,314.7 C775.0,314.6 780.0,315.5 785.0,315.5 C790.0,315.5 794.5,313.2 800.0,314.7 C805.5,316.2 813.0,323.8 818.0,324.5 C823.0,325.2 828.0,319.9 830.0,319.0" fill="none" stroke="#75777d" stroke-width="9" stroke-linejoin="round" stroke-linecap="round"/>
</g>
<path d="M83,8.5 L833,8.5 L833,611 L83,611 Z" fill="none" stroke="#103f6e" stroke-width="3.5"/>
<line x1="83" y1="7" x2="83" y2="613" stroke="#103f6e" stroke-width="4"/>
<line x1="833" y1="7" x2="833" y2="613" stroke="#103f6e" stroke-width="4"/>
<text x="70" y="17.7" text-anchor="end" font-family="Liberation Sans" font-weight="bold" font-size="25" fill="#103f6e">100</text>
<text x="70" y="167.9" text-anchor="end" font-family="Liberation Sans" font-weight="bold" font-size="25" fill="#103f6e">50</text>
<text x="70" y="316.6" text-anchor="end" font-family="Liberation Sans" font-weight="bold" font-size="25" fill="#103f6e">0</text>
<text x="70" y="471" text-anchor="end" font-family="Liberation Sans" font-weight="bold" font-size="25" fill="#103f6e">50</text>
<text x="70" y="616" text-anchor="end" font-family="Liberation Sans" font-weight="bold" font-size="25" fill="#103f6e">100</text>
<rect x="30" y="462.9" width="13" height="3.1" fill="#103f6e"/>
<rect x="16" y="607.9" width="12.6" height="3.1" fill="#103f6e"/>
<text x="83.9" y="639.5" text-anchor="middle" font-family="Liberation Sans" font-weight="bold" font-size="25" fill="#103f6e">0</text>
<text x="154.0" y="639.5" text-anchor="middle" font-family="Liberation Sans" font-weight="bold" font-size="25" fill="#103f6e">0.5</text>
<text x="231.9" y="639.5" text-anchor="middle" font-family="Liberation Sans" font-weight="bold" font-size="25" fill="#103f6e">1</text>
<text x="309.4" y="639.5" text-anchor="middle" font-family="Liberation Sans" font-weight="bold" font-size="25" fill="#103f6e">1.5</text>
<text x="383.9" y="639.5" text-anchor="middle" font-family="Liberation Sans" font-weight="bold" font-size="25" fill="#103f6e">2</text>
<text x="458.9" y="639.5" text-anchor="middle" font-family="Liberation Sans" font-weight="bold" font-size="25" fill="#103f6e">2.5</text>
<text x="534.4" y="639.5" text-anchor="middle" font-family="Liberation Sans" font-weight="bold" font-size="25" fill="#103f6e">3</text>
<text x="608.4" y="639.5" text-anchor="middle" font-family="Liberation Sans" font-weight="bold" font-size="25" fill="#103f6e">3.5</text>
<text x="683.2" y="639.5" text-anchor="middle" font-family="Liberation Sans" font-weight="bold" font-size="25" fill="#103f6e">4</text>
<text x="755.2" y="639.5" text-anchor="middle" font-family="Liberation Sans" font-weight="bold" font-size="25" fill="#103f6e">4.5</text>
<text x="417" y="683.7" font-family="Liberation Sans" font-weight="bold" font-size="25" fill="#103f6e">V<tspan font-size="20" dy="6.8">CM</tspan><tspan dy="-6.8"> </tspan><tspan dx="0.5" letter-spacing="-1">(V)</tspan></text>
<text transform="translate(17.8,357) rotate(-90)" x="0" y="0" font-family="Liberation Sans" font-weight="bold" font-size="25" fill="#103f6e">V<tspan font-size="19" dx="-1.5" dy="6.8">OS</tspan><tspan dx="6.5" dy="-6.8"> (µV)</tspan></text>
<text x="699" y="58" font-family="Liberation Sans" font-weight="bold" font-size="25" fill="#103f6e">ADA4500</text>
<text x="699" y="82.7" font-family="Liberation Sans" font-weight="bold" font-size="25" fill="#103f6e">V<tspan font-size="19" dy="4">SY</tspan></text>
<rect x="749" y="73" width="12.7" height="2.8" fill="#103f6e"/><rect x="749" y="78" width="12.7" height="2.8" fill="#103f6e"/>
<text x="768.3" y="82.7" font-family="Liberation Sans" font-weight="bold" font-size="25" fill="#103f6e">5 V</text>
<text x="651" y="681.6" font-family="Liberation Sans" font-size="19.3" fill="#c3e3b5" stroke="#c3e3b5" stroke-width="0.25">www.cntronics.com</text>
</svg>
</body></html>
